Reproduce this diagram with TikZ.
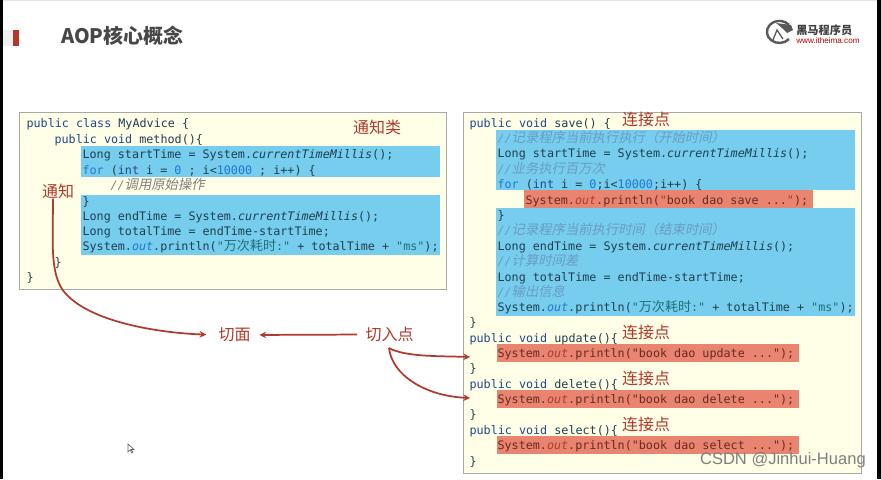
\documentclass[tikz,border=0pt]{standalone}
\usepackage{fontspec}
\setmainfont{Liberation Sans}
\newfontfamily\cjkf{Noto Sans CJK SC}
\newfontfamily\cjki[FakeSlant=0.2]{Noto Sans CJK SC}
\newfontfamily\codef{DejaVu Sans Mono}
\definecolor{redc}{HTML}{B03A2E}
\definecolor{boxy}{HTML}{FFFEE6}
\definecolor{boxb}{HTML}{A8A8A8}
\definecolor{hblue}{HTML}{76CDEE}
\definecolor{hred}{HTML}{E88470}
\definecolor{kwc}{HTML}{1F4A8A}
\definecolor{numc}{HTML}{1E78D0}
\definecolor{txtc}{HTML}{1F3F4F}
\definecolor{cmc}{HTML}{6A9CC4}
\definecolor{strc}{HTML}{1F7078}
\definecolor{darkt}{HTML}{6A2A20}
\newcommand{\kw}[1]{\textcolor{kwc}{#1}}
\newcommand{\nm}[1]{\textcolor{numc}{#1}}
\newcommand{\cmt}[1]{\textcolor{cmc}{\itshape //{\cjki\fontsize{10pt}{11pt}\selectfont #1}}}
\newcommand{\cmg}[1]{\textcolor{gray}{\itshape //{\cjki\fontsize{10pt}{11pt}\selectfont #1}}}
\newcommand{\cjs}[1]{\textcolor{strc}{{\cjkf\fontsize{9.8pt}{11pt}\selectfont #1}}}
\newcommand{\ita}[1]{{\itshape #1}}
\newcommand{\outr}{\textcolor{numc}{\itshape out}}
\newcommand{\outd}{\textcolor{redc}{\itshape out}}
\newcommand{\stg}[1]{\textcolor{strc}{#1}}
\tikzset{
 code/.style={anchor=west,inner sep=0pt,yshift=-0.75pt,xshift=-0.5pt,font=\codef\fontsize{8.8pt}{10pt}\selectfont,text=txtc,text height=7pt,text depth=2pt},
 codered/.style={code,text=darkt},
 lab/.style={inner sep=0pt,text=redc,font=\cjkf\fontsize{12pt}{14pt}\selectfont},
 panel/.style={fill=boxy,draw=boxb,line width=0.7pt},
 hb/.style={fill=hblue,draw=none},
 hr/.style={fill=hred,draw=none},
 arr/.style={draw=redc,line width=1.3pt,-{Stealth[length=5pt,width=5pt]}},
}
\usetikzlibrary{arrows.meta}
\begin{document}
\begin{tikzpicture}[x=0.75pt,y=-0.75pt]
\useasboundingbox (0,0) rectangle (881,479);
\fill[white] (0,0) rectangle (881,479);
\fill[gray!20] (0,0) rectangle (881,1);
\fill[black] (0,0) rectangle (3,479);
\fill[black] (877,0) rectangle (881,479);
% title
\fill[gray!12] (3,30) rectangle (13,46);
\fill[redc] (13,30) rectangle (19,46);
\node[anchor=west,inner sep=0pt,text=black!72,font=\cjkf\bfseries\fontsize{15pt}{18pt}\selectfont] (title) at (61,36) {AOP核心概念};
% logo
\draw[black!65,line width=1.8pt] (789,39) arc (40:320:12.5 and 11);
\draw[black!65,line width=1pt] (773,40) -- (777,30) -- (783,39);
\fill[black!65] (776,23) -- (791,25) -- (793,30) -- (787,33) -- (782,28) -- cycle;
\node[anchor=west,inner sep=0pt,text=black!75,font=\cjkf\bfseries\fontsize{8.4pt}{9pt}\selectfont] (logoa) at (796,30) {黑马程序员};
\node[anchor=west,inner sep=0pt,text=red!75!black,font=\fontsize{6.1pt}{7pt}\selectfont] (logob) at (796,41) {www.itheima.com};
% left panel
\filldraw[panel] (19.5,112.5) rectangle (446,289);
\fill[hb] (81,146) rectangle (440,177);
\fill[hb] (81,195) rectangle (440,254.5);
\node[code] (l1) at (27,123) {\kw{public class} MyAdvice \{};
\node[code] (l2) at (55,139) {\kw{public void} method()\{};
\node[code] (l3) at (83,154) {Long startTime = System.\ita{currentTimeMillis}();};
\node[code] (l4) at (83,170) {\nm{for} (\kw{int} i = \nm{0} ; i<\nm{10000} ; i++) \{};
\node[code] (l5) at (111,185) {\cmg{调用原始操作}};
\node[code] (l6) at (83,201) {\}};
\node[code] (l7) at (83,216) {Long endTime = System.\ita{currentTimeMillis}();};
\node[code] (l8) at (83,231) {Long totalTime = endTime-startTime;};
\node[code] (l9) at (83,246) {System.\outr.println(\stg{"}\cjs{万次耗时}\stg{:"} + totalTime + \stg{"ms"});};
\node[code] (l10) at (55,262) {\}};
\node[code] (l11) at (27,277) {\}};
% right panel
\filldraw[panel] (463,112) rectangle (861.5,473);
\fill[hb] (496,130) rectangle (855,190);
\fill[hr] (524,190) rectangle (813,207.5);
\fill[hb] (496,207.5) rectangle (855,316);
\fill[hr] (497,344) rectangle (799,362);
\fill[hr] (497,390) rectangle (799,408);
\fill[hr] (497,436) rectangle (799,454);
\node[code] (r1) at (470,123) {\kw{public void} save() \{};
\node[code] (r2) at (498,138) {\cmt{记录程序当前执行执行（开始时间）}};
\node[code] (r3) at (498,153) {Long startTime = System.\ita{currentTimeMillis}();};
\node[code] (r4) at (498,169) {\cmt{业务执行百万次}};
\node[code] (r5) at (498,184) {\nm{for} (\kw{int} i = \nm{0};i<\nm{10000};i++) \{};
\node[codered] (r6) at (526,200) {System.\outd.println(\textcolor{redc}{\itshape"}book dao save ...\textcolor{redc}{\itshape"});};
\node[code] (r7) at (498,215) {\}};
\node[code] (r8) at (498,230) {\cmt{记录程序当前执行时间（结束时间）}};
\node[code] (r9) at (498,246) {Long endTime = System.\ita{currentTimeMillis}();};
\node[code] (r10) at (498,261) {\cmt{计算时间差}};
\node[code] (r11) at (498,277) {Long totalTime = endTime-startTime;};
\node[code] (r12) at (498,292) {\cmt{输出信息}};
\node[code] (r13) at (498,307) {System.\outr.println(\stg{"}\cjs{万次耗时}\stg{:"} + totalTime + \stg{"ms"});};
\node[code] (r14) at (470,322) {\}};
\node[code] (r15) at (470,338) {\kw{public void} update()\{};
\node[codered] (r16) at (498,353) {System.\outd.println("book dao update ...");};
\node[code] (r17) at (470,368) {\}};
\node[code] (r18) at (470,384) {\kw{public void} delete()\{};
\node[codered] (r19) at (498,399) {System.\outd.println("book dao delete ...");};
\node[code] (r20) at (470,414) {\}};
\node[code] (r21) at (470,430) {\kw{public void} select()\{};
\node[codered] (r22) at (498,445) {System.\outd.println("book dao select ...");};
\node[code] (r23) at (470,461) {\}};
% labels
\node[lab] (tzl) at (377,127) {通知类};
\node[lab] (tz) at (58,191) {通知};
\node[lab] (qm) at (234.5,335) {切面};
\node[lab] (qr) at (389.5,334.5) {切入点};
\node[lab] (lj1) at (646,119) {连接点};
\node[lab] (lj2) at (646,332) {连接点};
\node[lab] (lj3) at (646,378) {连接点};
\node[lab] (lj4) at (646,424) {连接点};
% connectors
\coordinate (eu) at (470,357);
\coordinate (ed) at (470,398);
\draw[arr,shorten >=9pt] (tz.south -| 53,203) .. controls (53,240) and (50,270) .. (62,289) .. controls (85,322) and (160,333) .. (qm.west);
\draw[arr,shorten >=6.5pt,shorten <=6pt] (qr.west) -- (qm.east);
\draw[arr] (389,348) .. controls (405,357) and (440,356) .. (eu);
\draw[arr] (389,348) .. controls (392,375) and (425,396) .. (ed);
% cursor
\draw[black!60,line width=0.5pt,fill=white] (128,444) -- (128,452) -- (130,450) -- (132,453) -- (133,452) -- (131,449.5) -- (134,449.5) -- cycle;
% watermark
\node[anchor=east,inner sep=0pt,text=black!50,font=\fontsize{12.4pt}{15pt}\selectfont] (wm) at (866,460) {CSDN @Jinhui-Huang};
\end{tikzpicture}
\end{document}
